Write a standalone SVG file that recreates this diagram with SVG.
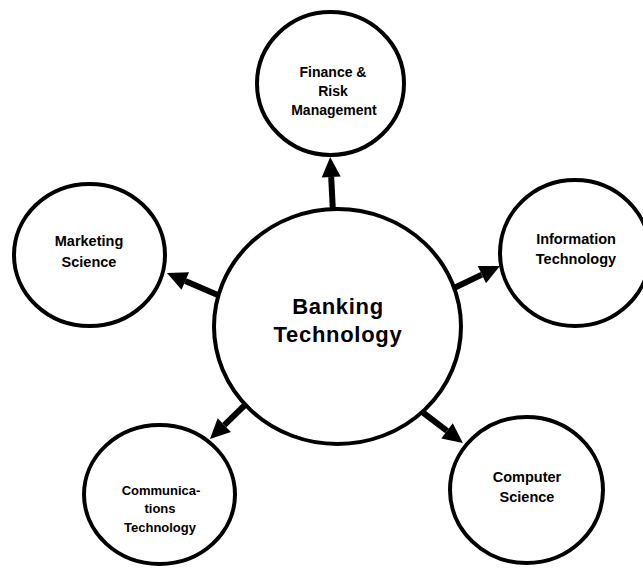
<svg xmlns="http://www.w3.org/2000/svg" width="643" height="569" viewBox="0 0 643 569">
<style>
.node{fill:#fff;stroke:#000;stroke-width:4}
.lbl{font-family:"Liberation Sans",Arial,sans-serif;font-weight:bold;fill:#000;text-anchor:middle}
.conn{stroke:#000;stroke-width:6;fill:none;marker-end:url(#ah)}
</style>
<defs>
<marker id="ah" markerUnits="userSpaceOnUse" markerWidth="20" markerHeight="20" refX="0" refY="10" orient="auto" overflow="visible">
<path d="M0,0.5 L20,10 L0,19.5 z" fill="#000"/>
</marker>
</defs>
<rect width="643" height="569" fill="#fff"/>
<g id="connectors">
<line class="conn" x1="333" y1="213" x2="331.2" y2="177"/>
<line class="conn" x1="219" y1="295.6" x2="185.3" y2="281"/>
<line class="conn" x1="452" y1="289" x2="481.9" y2="274.6"/>
<line class="conn" x1="248" y1="402" x2="224.3" y2="425.1"/>
<line class="conn" x1="417" y1="408" x2="447" y2="430.9"/>
</g>
<g id="banking">
<ellipse class="node" cx="337.5" cy="326.5" rx="123.5" ry="117.5"/>
<text class="lbl" font-size="22" letter-spacing="0.7" x="338" y="314">Banking</text>
<text class="lbl" font-size="22" letter-spacing="0.7" x="338" y="342">Technology</text>
</g>
<g id="finance">
<ellipse class="node" cx="330.5" cy="83.5" rx="73.5" ry="71.5"/>
<text class="lbl" font-size="14" x="333" y="77">Finance &amp;</text>
<text class="lbl" font-size="14" x="333" y="96">Risk</text>
<text class="lbl" font-size="14" x="334" y="115">Management</text>
</g>
<g id="marketing">
<ellipse class="node" cx="89.5" cy="255" rx="75.5" ry="71"/>
<text class="lbl" font-size="14.5" x="89" y="246">Marketing</text>
<text class="lbl" font-size="14.5" x="89" y="267">Science</text>
</g>
<g id="information">
<ellipse class="node" cx="575" cy="253" rx="75" ry="73"/>
<text class="lbl" font-size="14.5" x="576" y="244">Information</text>
<text class="lbl" font-size="14.5" x="576" y="264">Technology</text>
</g>
<g id="communications">
<ellipse class="node" cx="159.5" cy="494.5" rx="75.5" ry="69.5"/>
<text class="lbl" font-size="13" x="161" y="495">Communica-</text>
<text class="lbl" font-size="13" x="160" y="513">tions</text>
<text class="lbl" font-size="13" x="160" y="532">Technology</text>
</g>
<g id="computer">
<ellipse class="node" cx="526.5" cy="490" rx="76.5" ry="73"/>
<text class="lbl" font-size="14.5" x="527" y="482">Computer</text>
<text class="lbl" font-size="14.5" x="527" y="502">Science</text>
</g>
</svg>
